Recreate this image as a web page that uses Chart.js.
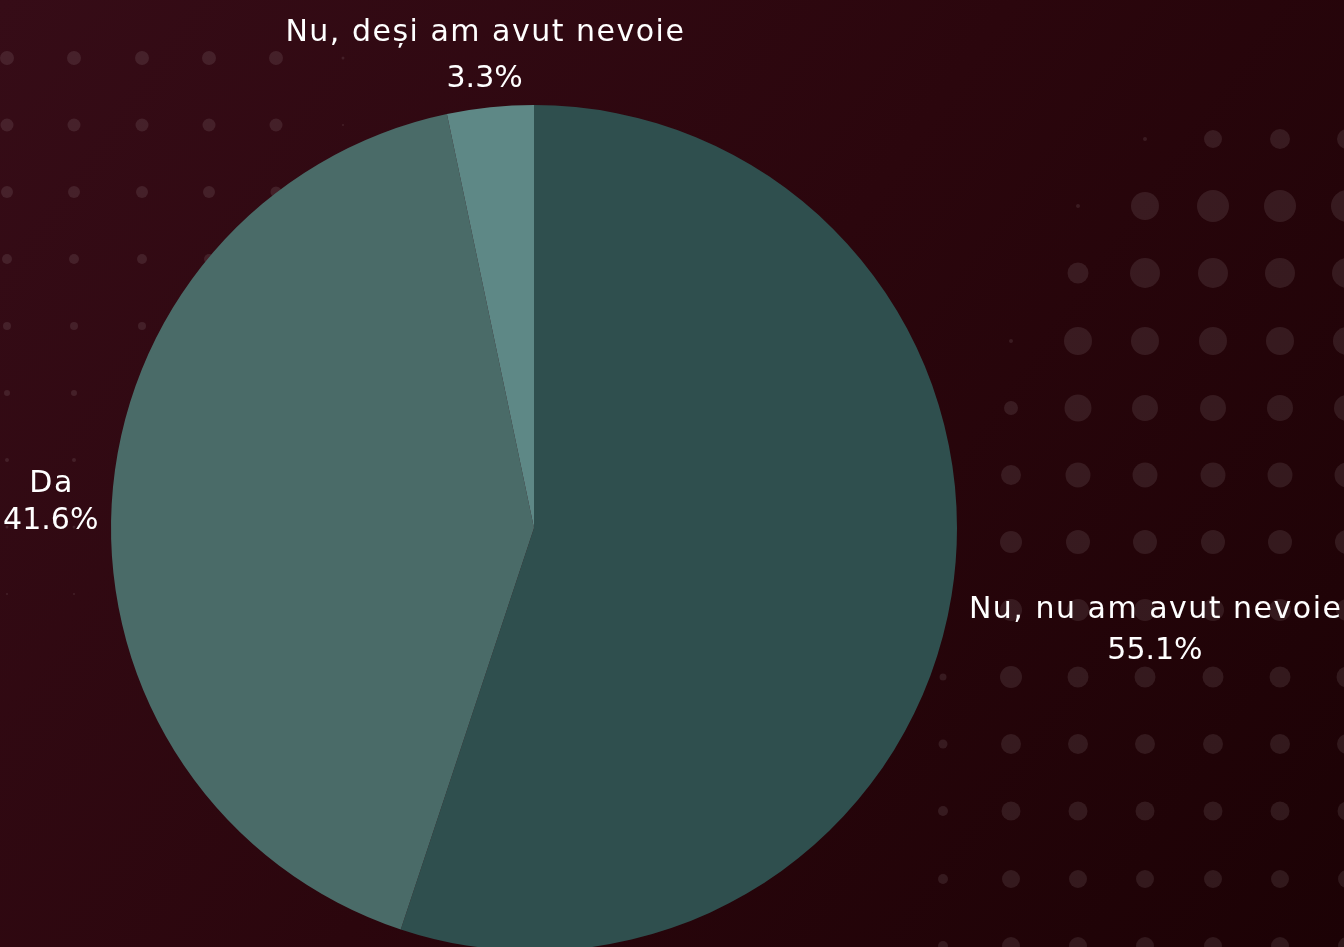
<!DOCTYPE html>
<html>
<head>
<meta charset="utf-8">
<script src="https://cdn.jsdelivr.net/npm/chart.js@4/dist/chart.umd.min.js"></script>
<style>
html,body{margin:0;padding:0;overflow:hidden;background:#2a060c;width:1344px;height:947px;}
canvas{display:block;}
</style>
</head>
<body>
<canvas id="c" width="1344" height="955"></canvas>
<script>
// ---- data ----
const categories = ["Nu, nu am avut nevoie", "Da", "Nu, deși am avut nevoie"];
const percentages = [55.1, 41.6, 3.3];
const valueLabels = ["55.1%", "41.6%", "3.3%"];

// ---- styling ----
const sliceColors = ["#2f4f4e", "#4a6b68", "#5e8886"];
const labelOffsets = [206, 61, 54];   // distance beyond the rim
const labelGaps = [41, 37, 46];       // gap between label lines
const labelShiftY = 2.5;
const labelFont = '400 30px "DejaVu Sans", sans-serif';

// decorative dot grids
const dotsLeftCols = [7, 74, 142, 209, 276, 343];
const dotsLeftRows = [58, 125, 192, 259, 326, 393, 460, 527, 594];
const dotsLeftR = [
  [7,7,7,7,7,1.5],
  [6.5,6.5,6.5,6.5,6.5,1],
  [6,6,6,6,5.5,0],
  [5,5,5,5,0,0],
  [4,4,4,0,0,0],
  [3,3,0,0,0,0],
  [2,2,0,0,0,0],
  [1.5,1.5,0,0,0,0],
  [1,1,0,0,0,0]
];
const dotsRightCols = [943, 1011, 1078, 1145, 1213, 1280, 1347];
const dotsRightRows = [139, 206, 273, 341, 408, 475, 542, 610, 677, 744, 811, 879, 946];
const dotsRightR = [
  [0,0,0,2,9,10,10],
  [0,0,2,14,16,16,16],
  [0,0,10.5,15,15,15,15],
  [0,2,14,14,14,14,14],
  [0,7,13.5,13,13,13,13],
  [0,10,12.5,12.5,12.5,12.5,12.5],
  [0,11,12,12,12,12,12],
  [2,11,11,11,11,11,11],
  [3.5,11,10.5,10.5,10.5,10.5,10.5],
  [4.5,10,10,10,10,10,10],
  [5,9.5,9.5,9.5,9.5,9.5,9.5],
  [5,9,9,9,9,9,9],
  [5,9,9,9,9,9,9]
];

const bgPlugin = {
  id: 'bg',
  beforeDraw(chart) {
    const ctx = chart.ctx, w = chart.width, h = chart.height;
    ctx.save();
    const g = ctx.createLinearGradient(0, 0, w, h);
    g.addColorStop(0, '#360c17');
    g.addColorStop(0.5, '#2b060d');
    g.addColorStop(1, '#1c0205');
    ctx.fillStyle = g;
    ctx.fillRect(0, 0, w, h);
    ctx.fillStyle = 'rgba(255,255,255,0.09)';
    const drawGrid = (cols, rows, rr) => {
      rows.forEach((y, i) => cols.forEach((x, j) => {
        const r = rr[i][j];
        if (r > 0) { ctx.beginPath(); ctx.arc(x, y, r, 0, Math.PI * 2); ctx.fill(); }
      }));
    };
    drawGrid(dotsLeftCols, dotsLeftRows, dotsLeftR);
    drawGrid(dotsRightCols, dotsRightRows, dotsRightR);
    ctx.restore();
  }
};

const labelPlugin = {
  id: 'outLabels',
  afterDatasetsDraw(chart) {
    const ctx = chart.ctx;
    const meta = chart.getDatasetMeta(0);
    ctx.save();
    ctx.font = labelFont;
    ctx.fillStyle = '#ffffff';
    ctx.textAlign = 'center';
    ctx.textBaseline = 'middle';
    meta.data.forEach((arc, i) => {
      const p = arc.getProps(['x', 'y', 'startAngle', 'endAngle', 'outerRadius'], true);
      const mid = (p.startAngle + p.endAngle) / 2;
      const d = p.outerRadius + labelOffsets[i];
      const cx = p.x + Math.cos(mid) * d;
      const cy = p.y + Math.sin(mid) * d + labelShiftY;
      if ('letterSpacing' in ctx) ctx.letterSpacing = '1.5px';
      ctx.fillText(categories[i], cx + 0.75, cy - labelGaps[i] / 2);
      if ('letterSpacing' in ctx) ctx.letterSpacing = '0px';
      ctx.fillText(valueLabels[i], cx, cy + labelGaps[i] / 2);
    });
    ctx.restore();
  }
};

new Chart(document.getElementById('c'), {
  type: 'pie',
  data: {
    labels: categories,
    datasets: [{
      data: percentages,
      backgroundColor: sliceColors,
      borderWidth: 0
    }]
  },
  options: {
    responsive: false,
    animation: false,
    layout: { padding: { left: 111, right: 387, top: 105, bottom: 4 } },
    plugins: { legend: { display: false }, tooltip: { enabled: false } }
  },
  plugins: [bgPlugin, labelPlugin]
});
</script>
</body>
</html>
